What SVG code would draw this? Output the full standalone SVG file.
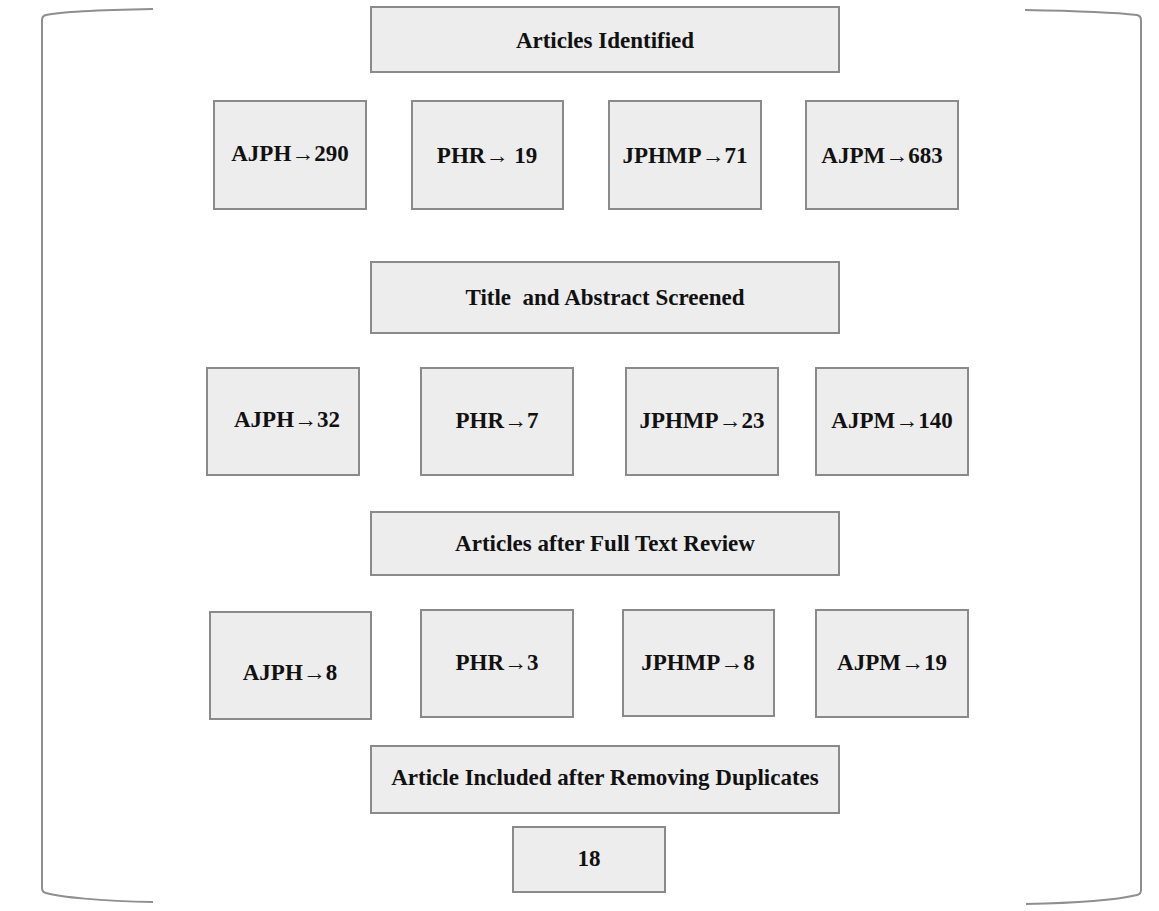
<svg xmlns="http://www.w3.org/2000/svg" width="1159" height="911" viewBox="0 0 1159 911">
<style>
.b{fill:#ededed;stroke:#8a8a8a;stroke-width:2}
.t{font-family:"Liberation Serif","Times New Roman",serif;font-weight:bold;font-size:23px;fill:#111;text-anchor:middle;dominant-baseline:central;white-space:pre}
.br{fill:none;stroke:#8f8f8f;stroke-width:2}
</style>
<rect width="1159" height="911" fill="#fff"/>
<g id="connectors">
<path class="br" d="M153,9 C100,10 60,12 46,15 Q42,16 42,20 L42,888 Q42,892 46,893 C60,897 100,901 153,902"/>
<path class="br" d="M1025,10 C1080,11 1120,13 1137,15 Q1141,16 1141,20 L1141,890 Q1141,894 1137,895 C1120,899 1080,903 1026,904"/>
</g>
<g id="identified"><rect class="b" x="371" y="7" width="468" height="65"/><text class="t" x="605" y="40">Articles Identified</text></g>
<g id="r1a"><rect class="b" x="214" y="101" width="152" height="108"/><text class="t" x="290" y="153">AJPH→290</text></g>
<g id="r1b"><rect class="b" x="412" y="101" width="151" height="108"/><text class="t" x="487" y="155">PHR→ 19</text></g>
<g id="r1c"><rect class="b" x="609" y="101" width="152" height="108"/><text class="t" x="685" y="155">JPHMP→71</text></g>
<g id="r1d"><rect class="b" x="806" y="101" width="152" height="108"/><text class="t" x="882" y="155">AJPM→683</text></g>
<g id="screened"><rect class="b" x="371" y="262" width="468" height="71"/><text class="t" x="605" y="297">Title  and Abstract Screened</text></g>
<g id="r2a"><rect class="b" x="207" y="368" width="152" height="107"/><text class="t" x="287" y="419">AJPH→32</text></g>
<g id="r2b"><rect class="b" x="421" y="368" width="152" height="107"/><text class="t" x="497" y="420">PHR→7</text></g>
<g id="r2c"><rect class="b" x="626" y="368" width="152" height="107"/><text class="t" x="702" y="420">JPHMP→23</text></g>
<g id="r2d"><rect class="b" x="816" y="368" width="152" height="107"/><text class="t" x="892" y="420">AJPM→140</text></g>
<g id="fulltext"><rect class="b" x="371" y="512" width="468" height="63"/><text class="t" x="605" y="543">Articles after Full Text Review</text></g>
<g id="r3a"><rect class="b" x="210" y="612" width="161" height="107"/><text class="t" x="290" y="672">AJPH→8</text></g>
<g id="r3b"><rect class="b" x="421" y="610" width="152" height="107"/><text class="t" x="497" y="662">PHR→3</text></g>
<g id="r3c"><rect class="b" x="623" y="610" width="151" height="106"/><text class="t" x="698" y="662">JPHMP→8</text></g>
<g id="r3d"><rect class="b" x="816" y="610" width="152" height="107"/><text class="t" x="892" y="662">AJPM→19</text></g>
<g id="included"><rect class="b" x="371" y="746" width="468" height="67"/><text class="t" x="605" y="777">Article Included after Removing Duplicates</text></g>
<g id="final"><rect class="b" x="513" y="827" width="152" height="65"/><text class="t" x="589" y="858">18</text></g>
</svg>
